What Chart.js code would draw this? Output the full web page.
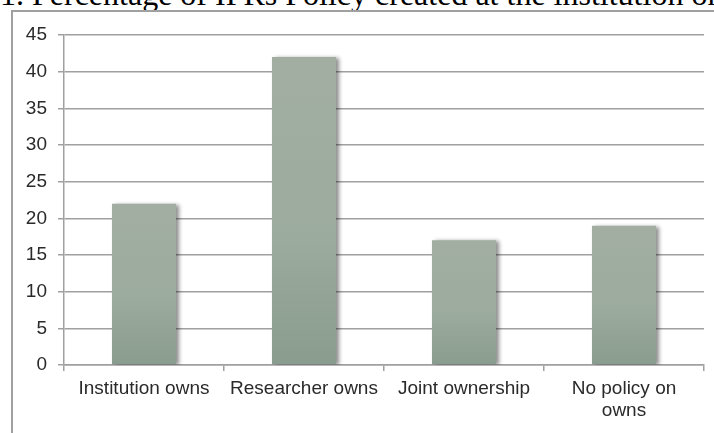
<!DOCTYPE html>
<html>
<head>
<meta charset="utf-8">
<script src="https://cdn.jsdelivr.net/npm/chart.js@4/dist/chart.umd.min.js"></script>
<style>
  html, body { margin: 0; padding: 0; background: #fff; overflow: hidden; }
  #titulo {
    position: absolute; left: 0; top: -22px;
    font: 32px/1 "Liberation Serif", "Times New Roman", serif;
    color: #000; white-space: nowrap;
  }
  #marco {
    position: absolute; left: 11px; top: 10px; width: 800px; height: 500px;
    border-left: 2px solid #a0a0a0; border-top: 2px solid #a0a0a0;
  }
  #contenedor { position: absolute; left: 0; top: 0; width: 714px; height: 433px; }
</style>
</head>
<body>
<div id="titulo">1. Percentage of IPRs Policy created at the institution on ownership</div>
<div id="marco"></div>
<div id="contenedor"><canvas id="graficoBarras"></canvas></div>
<script>
// Datos
var categorias = ["Institution owns", "Researcher owns", "Joint ownership", ["No policy on", "owns"]];
var porcentajes = [22, 42, 17, 19];
var marcasY = [0, 5, 10, 15, 20, 25, 30, 35, 40, 45];

// Degradado de cada barra, de su tope hasta el cero
function colorBarra(context) {
  var chart = context.chart;
  if (!chart.chartArea || context.dataIndex === undefined) return "#98a79a";
  var yScale = chart.scales.y;
  var top = yScale.getPixelForValue(porcentajes[context.dataIndex]);
  var bottom = yScale.getPixelForValue(0);
  var g = chart.ctx.createLinearGradient(0, top, 0, bottom);
  g.addColorStop(0, "#a3aea3");
  g.addColorStop(0.6, "#9bab9d");
  g.addColorStop(1, "#899c8d");
  return g;
}

// Sombra a la derecha de las barras
var sombraBarras = {
  id: "sombraBarras",
  beforeDatasetsDraw: function(chart) {
    var ctx = chart.ctx;
    ctx.save();
    ctx.shadowColor = "rgba(0,0,0,0.45)";
    ctx.shadowOffsetX = 3;
    ctx.shadowOffsetY = 1;
    ctx.shadowBlur = 4;
  },
  afterDatasetsDraw: function(chart) {
    chart.ctx.restore();
  }
};

var canvas = document.getElementById("graficoBarras");

var grafico = new Chart(canvas, {
  type: "bar",
  data: {
    labels: categorias,
    datasets: [{
      data: porcentajes,
      backgroundColor: colorBarra,
      borderWidth: 0,
      categoryPercentage: 1,
      barPercentage: 0.4
    }]
  },
  options: {
    responsive: true,
    maintainAspectRatio: false,
    animation: false,
    layout: { padding: { top: 35, right: 10, left: 0, bottom: 0 } },
    plugins: {
      legend: { display: false },
      tooltip: { enabled: false }
    },
    scales: {
      x: {
        afterFit: function(scale) { scale.height = 68; },
        grid: {
          drawOnChartArea: false,
          drawTicks: true,
          tickLength: 6,
          color: "#a0a0a0",
          lineWidth: 1.5
        },
        border: { color: "#a0a0a0", width: 1.5 },
        ticks: {
          color: "#2a2a2a",
          padding: 7,
          maxRotation: 0,
          autoSkip: false,
          font: { family: "'Liberation Sans', Arial, sans-serif", size: 19, lineHeight: 1.15 }
        }
      },
      y: {
        min: 0,
        max: 45,
        afterFit: function(scale) { scale.width = 64; },
        afterBuildTicks: function(scale) {
          scale.ticks = marcasY.map(function(v) { return { value: v }; });
        },
        grid: {
          color: "#a0a0a0",
          lineWidth: 1.5,
          tickLength: 6
        },
        border: { color: "#a0a0a0", width: 1.5 },
        ticks: {
          color: "#2a2a2a",
          padding: 11,
          font: { family: "'Liberation Sans', Arial, sans-serif", size: 19 }
        }
      }
    }
  },
  plugins: [sombraBarras]
});
</script>
</body>
</html>
